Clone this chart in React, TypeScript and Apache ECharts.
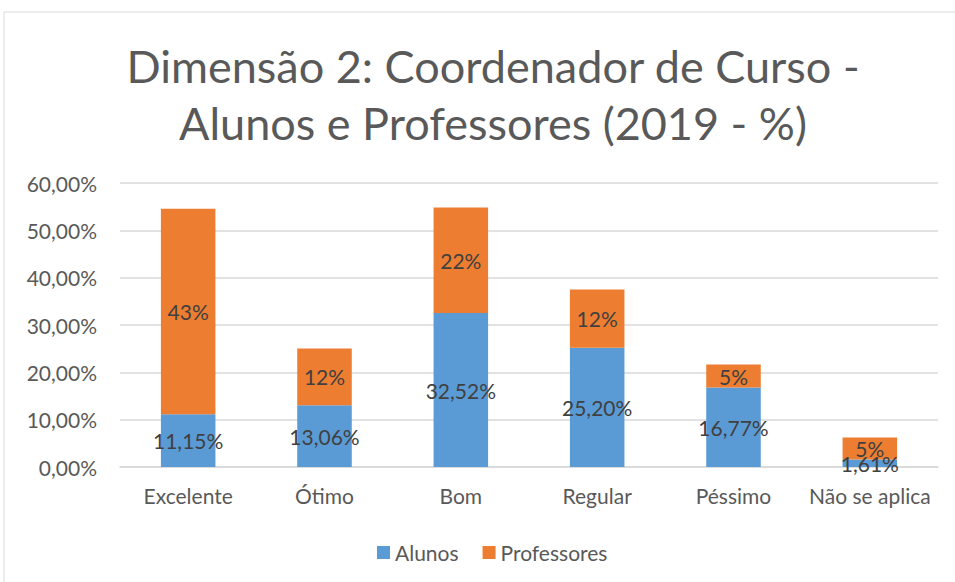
import React, { useEffect, useRef } from "react";
import * as echarts from "echarts";

const categories = ["Excelente", "Ótimo", "Bom", "Regular", "Péssimo", "Não se aplica"];
const alunos = [11.15, 13.06, 32.52, 25.2, 16.77, 1.61];
const professores = [43.4, 12.0, 22.3, 12.3, 4.9, 4.6];
const yTicks = [0, 10, 20, 30, 40, 50, 60];
const titleLines = ["Dimensão 2: Coordenador de Curso -", "Alunos e Professores (2019 - %)"];

const FONT = "Lato, 'Open Sans', sans-serif";

export default function App() {
  const ref = useRef<HTMLDivElement>(null);
  useEffect(() => {
    document.body.style.margin = "0";
    const chart = echarts.init(ref.current!, null, { renderer: "svg" });
    const fmt2 = (v: number) => v.toFixed(2).replace(".", ",") + "%";
    chart.setOption({
      animation: false,
      backgroundColor: "#ffffff",
      textStyle: { fontFamily: FONT },
      title: {
        text: titleLines.join("\n"),
        left: 488,
        top: 32,
        textAlign: "center",
        textStyle: { fontFamily: FONT, fontSize: 45, fontWeight: "normal", color: "#595959", lineHeight: 57 },
      },
      graphic: [
        {
          type: "rect",
          shape: { x: 4, y: 12, width: 1000, height: 620 },
          style: { fill: "none", stroke: "#d9d9d9", lineWidth: 1 },
          silent: true,
        },
      ],
      legend: {
        data: ["Alunos", "Professores"],
        left: 372,
        top: 537,
        itemWidth: 13,
        itemHeight: 13,
        itemGap: 24,
        icon: "rect",
        textStyle: { fontFamily: FONT, fontSize: 21, color: "#595959" },
      },
      grid: { left: 120, right: 17, top: 183, bottom: 115, containLabel: false },
      xAxis: {
        type: "category",
        data: categories,
        axisLine: { lineStyle: { color: "#d9d9d9", width: 1.5 } },
        axisTick: { show: false },
        axisLabel: { fontFamily: FONT, fontSize: 21, color: "#595959", margin: 18, interval: 0 },
      },
      yAxis: {
        type: "value",
        min: yTicks[0],
        max: yTicks[yTicks.length - 1],
        interval: 10,
        axisLine: { show: false },
        axisTick: { show: false },
        splitLine: { lineStyle: { color: "#d9d9d9", width: 1.5 } },
        axisLabel: {
          fontFamily: FONT,
          fontSize: 21,
          color: "#595959",
          margin: 23,
          formatter: (v: number) => fmt2(v),
        },
      },
      series: [
        {
          name: "Alunos",
          type: "bar",
          stack: "total",
          data: alunos,
          barWidth: "40%",
          itemStyle: { color: "#5b9bd5" },
          label: {
            show: true,
            position: "inside",
            fontFamily: FONT,
            fontSize: 21,
            color: "#404040",
            formatter: (p: any) => fmt2(p.value),
          },
        },
        {
          name: "Professores",
          type: "bar",
          stack: "total",
          data: professores,
          barWidth: "40%",
          itemStyle: { color: "#ed7d31" },
          label: {
            show: true,
            position: "inside",
            fontFamily: FONT,
            fontSize: 21,
            color: "#404040",
            formatter: (p: any) => Math.round(p.value) + "%",
          },
        },
      ],
    });
    return () => chart.dispose();
  }, []);
  return <div ref={ref} style={{ width: 955, height: 582 }} />;
}
